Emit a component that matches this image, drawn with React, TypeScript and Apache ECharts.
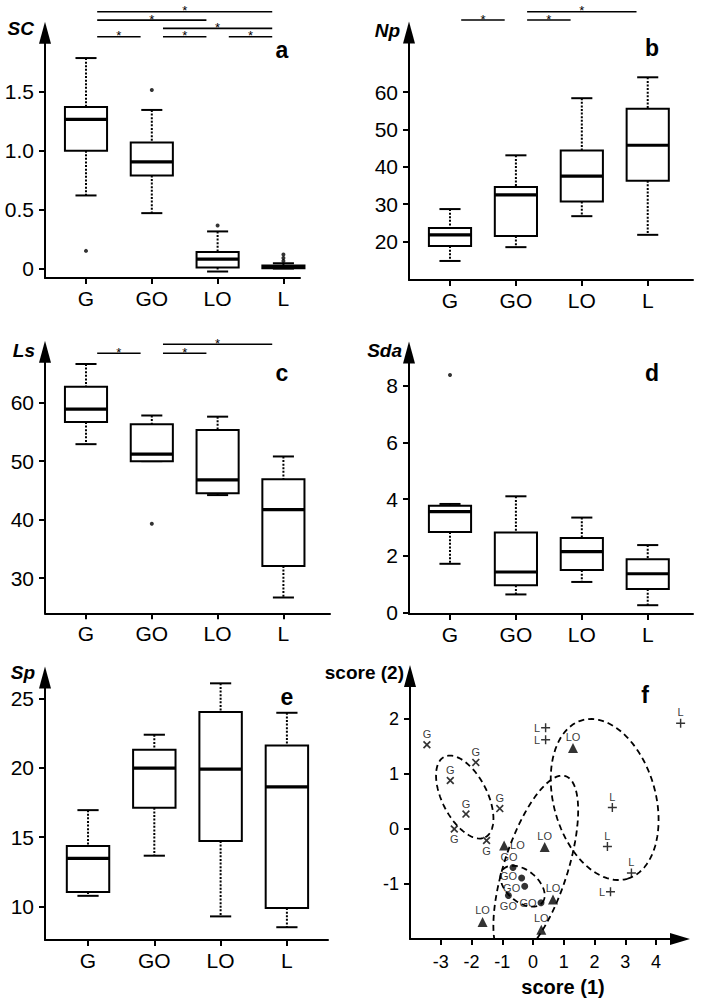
import React, { useEffect, useRef } from 'react';
import * as echarts from 'echarts';

const FONT = '"Liberation Sans", Arial, sans-serif';

const categories = ['G', 'GO', 'LO', 'L'];
const catPositions = [1, 2, 3, 4];

// [min, Q1, median, Q3, max]
const scStats = [
  [0.62, 1.0, 1.265, 1.37, 1.785],
  [0.47, 0.79, 0.905, 1.07, 1.345],
  [-0.025, 0.01, 0.08, 0.14, 0.315],
  [0.0, 0.003, 0.012, 0.025, 0.045],
];
const scOutliers = [[1, 0.15], [2, 1.515], [3, 0.365], [4, 0.065], [4, 0.09], [4, 0.12]];
const scTicks = [0, 0.5, 1.0, 1.5];
const scSig = [[1, 2, 0], [2, 3, 0], [3, 4, 0], [2, 4, 1], [1, 3, 2], [1, 4, 3]];

const npStats = [
  [14.8, 18.8, 21.8, 23.6, 28.7],
  [18.5, 21.5, 32.5, 34.6, 43.1],
  [26.8, 30.7, 37.5, 44.4, 58.4],
  [21.8, 36.3, 45.8, 55.6, 64.0],
];
const npOutliers: number[][] = [];
const npTicks = [20, 30, 40, 50, 60];
const npSig = [[1, 2, 0], [2, 3, 0], [2, 4, 1]];

const lsStats = [
  [52.9, 56.7, 58.9, 62.7, 66.6],
  [50.0, 50.0, 51.2, 56.3, 57.8],
  [44.2, 44.5, 46.8, 55.3, 57.6],
  [26.7, 32.1, 41.7, 46.9, 50.8],
];
const lsOutliers = [[2, 39.3]];
const lsTicks = [30, 40, 50, 60];
const lsSig = [[1, 2, 0], [2, 3, 0], [2, 4, 1]];

const sdaStats = [
  [1.72, 2.84, 3.56, 3.77, 3.83],
  [0.64, 0.96, 1.43, 2.82, 4.1],
  [1.08, 1.5, 2.15, 2.63, 3.35],
  [0.26, 0.83, 1.37, 1.88, 2.38],
];
const sdaOutliers = [[1, 8.38]];
const sdaTicks = [0, 2, 4, 6, 8];

const spStats = [
  [10.78, 11.05, 13.47, 14.37, 16.95],
  [13.67, 17.12, 19.98, 21.3, 22.38],
  [9.3, 14.73, 19.9, 24.02, 26.08],
  [8.52, 9.9, 18.63, 21.6, 23.96],
];
const spOutliers: number[][] = [];
const spTicks = [10, 15, 20, 25];

// PCA scores
const gScores = [[-3.45, 1.53], [-1.86, 1.21], [-2.69, 0.88], [-2.18, 0.27], [-1.08, 0.37], [-2.56, 0.0], [-1.51, -0.21]];
const gLabelSide = ['top', 'top', 'top', 'top', 'top', 'bottom', 'bottom'];
const goScores = [[-0.65, -0.7], [-0.37, -0.89], [-0.27, -1.04], [-0.8, -1.21], [0.26, -1.34]];
const goLabelSide = ['top', 'left', 'left', 'bottom', 'left'];
const goLabelShift = [[-4, 0], [0, -2], [0, 2], [0, 0], [0, 0]];
const loScores = [[1.3, 1.47], [-0.94, -0.3], [0.38, -0.33], [0.65, -1.28], [-1.64, -1.69], [0.27, -1.83]];
const loLabelSide = ['top', 'right', 'top', 'top', 'top', 'top'];
const lScores = [[4.8, 1.92], [0.41, 1.84], [0.41, 1.62], [2.58, 0.39], [2.42, -0.32], [3.2, -0.8], [2.52, -1.14]];
const lLabelSide = ['top', 'left', 'left', 'top', 'top', 'top', 'left'];
const scoreXTicks = [-3, -2, -1, 0, 1, 2, 3, 4];
const scoreYTicks = [-1, 0, 1, 2];
// ellipse: [cx, cy, u_x, u_y, v_x, v_y] (conjugate half axes in score units)
const ellipses = [
  [-2.22, 0.58, 0.67, -0.73, 0.65, 0.19],
  [-0.34, -1.04, 0.64, -0.3, 0.33, 0.22],
  [0.09, -0.71, -0.97, -1.67, 0.98, -0.18],
  [2.33, 0.535, 0.74, -1.44, 1.59, 0.26],
];

const X_PATH = 'path://M0,1.5L1.5,0L5,3.5L8.5,0L10,1.5L6.5,5L10,8.5L8.5,10L5,6.5L1.5,10L0,8.5L3.5,5Z';
const PLUS_PATH = 'path://M4.2,0H5.8V4.2H10V5.8H5.8V10H4.2V5.8H0V4.2H4.2Z';

const boxRender = (params: any, api: any) => {
  const x = api.value(0);
  const mn = api.value(1), q1 = api.value(2), md = api.value(3), q3 = api.value(4), mx = api.value(5);
  const c = (a: number, b: number) => api.coord([a, b]);
  const BH = 0.32, CH = 0.16;
  const tl = c(x - BH, q3), br = c(x + BH, q1);
  const top = c(x, mx), q3p = c(x, q3), q1p = c(x, q1), bot = c(x, mn);
  const capL = c(x - CH, mx)[0], capR = c(x + CH, mx)[0];
  const medL = c(x - BH, md), medR = c(x + BH, md);
  const solid = { stroke: '#000', lineWidth: 2 };
  const dotted = { stroke: '#000', lineWidth: 2, lineDash: [2, 1.6] };
  return {
    type: 'group',
    children: [
      { type: 'line', shape: { x1: top[0], y1: top[1], x2: q3p[0], y2: q3p[1] }, style: dotted },
      { type: 'line', shape: { x1: q1p[0], y1: q1p[1], x2: bot[0], y2: bot[1] }, style: dotted },
      { type: 'line', shape: { x1: capL, y1: top[1], x2: capR, y2: top[1] }, style: solid },
      { type: 'line', shape: { x1: capL, y1: bot[1], x2: capR, y2: bot[1] }, style: solid },
      { type: 'rect', shape: { x: tl[0], y: tl[1], width: br[0] - tl[0], height: br[1] - tl[1] }, style: { stroke: '#000', lineWidth: 2, fill: '#fff' } },
      { type: 'line', shape: { x1: medL[0], y1: medL[1], x2: medR[0], y2: medR[1] }, style: { stroke: '#000', lineWidth: 3.2 } },
    ],
  };
};

const makeSigRender = (baseY: number, step: number) => (params: any, api: any) => {
  const from = api.value(0), to = api.value(1), row = api.value(2);
  const x1 = api.coord([from + 0.17, 0])[0];
  const x2 = api.coord([to - 0.17, 0])[0];
  const y = baseY - row * step;
  return {
    type: 'group',
    children: [
      { type: 'line', shape: { x1, y1: y, x2, y2: y }, style: { stroke: '#000', lineWidth: 1.6 } },
      { type: 'text', x: (x1 + x2) / 2, y: y - 1, style: { text: '*', fontSize: 13, fontFamily: FONT, fill: '#000', align: 'center', verticalAlign: 'middle' } },
    ],
  };
};

const ellipseRender = (params: any, api: any) => {
  const cx = api.value(0), cy = api.value(1), ux = api.value(2), uy = api.value(3), vx = api.value(4), vy = api.value(5);
  const pts: number[][] = [];
  const N = 96;
  for (let i = 0; i <= N; i++) {
    const t = (i / N) * Math.PI * 2;
    pts.push(api.coord([cx + ux * Math.cos(t) + vx * Math.sin(t), cy + uy * Math.cos(t) + vy * Math.sin(t)]));
  }
  return { type: 'polyline', shape: { points: pts }, style: { stroke: '#000', lineWidth: 1.8, fill: 'none', lineDash: [6, 4] } };
};

const boxPanels = [
  { stats: scStats, outliers: scOutliers, ticks: scTicks, fmt: (v: number) => (v === 0 ? '0' : v.toFixed(1)), sig: scSig, sigY: 36.7, sigStep: 8.3,
    grid: { left: 45, top: 32.7, width: 255, height: 245.3 }, xr: [0.377, 4.252], yr: [-0.08, 2.0] },
  { stats: npStats, outliers: npOutliers, ticks: npTicks, fmt: (v: number) => String(v), sig: npSig, sigY: 20, sigStep: 8.3,
    grid: { left: 409, top: 32.5, width: 284, height: 247.5 }, xr: [0.378, 4.687], yr: [9.7, 76] },
  { stats: lsStats, outliers: lsOutliers, ticks: lsTicks, fmt: (v: number) => String(v), sig: lsSig, sigY: 353.3, sigStep: 9,
    grid: { left: 45, top: 351.7, width: 285, height: 261.6 }, xr: [0.377, 4.708], yr: [24, 68.7] },
  { stats: sdaStats, outliers: sdaOutliers, ticks: sdaTicks, fmt: (v: number) => String(v), sig: null as any, sigY: 0, sigStep: 0,
    grid: { left: 409, top: 352.5, width: 284, height: 261.5 }, xr: [0.378, 4.687], yr: [-0.05, 9.17] },
  { stats: spStats, outliers: spOutliers, ticks: spTicks, fmt: (v: number) => String(v), sig: null as any, sigY: 0, sigStep: 0,
    grid: { left: 45, top: 677.5, width: 283, height: 262.5 }, xr: [0.351, 4.62], yr: [7.6, 26.5] },
];

const axisLineStyle = { color: '#000', width: 2 };
const labelBase = { color: '#000', fontSize: 21, fontFamily: FONT };
const labelSmall = { color: '#000', fontSize: 18, fontFamily: FONT };

function buildOption() {
  const grid: any[] = [];
  const xAxis: any[] = [];
  const yAxis: any[] = [];
  const series: any[] = [];

  boxPanels.forEach((p, i) => {
    grid.push({ ...p.grid, containLabel: false, outerBoundsMode: 'none' });
    xAxis.push({
      type: 'value', gridIndex: i, min: p.xr[0], max: p.xr[1],
      splitLine: { show: false },
      axisLine: { show: true, onZero: false, lineStyle: axisLineStyle },
      axisTick: { show: true, customValues: catPositions, length: 6, lineStyle: { color: '#000', width: 2 } },
      axisLabel: { ...labelBase, customValues: catPositions, margin: 10, formatter: (v: number) => categories[Math.round(v) - 1] },
    });
    yAxis.push({
      type: 'value', gridIndex: i, min: p.yr[0], max: p.yr[1],
      splitLine: { show: false },
      axisLine: { show: true, onZero: false, lineStyle: axisLineStyle, symbol: ['none', 'triangle'], symbolSize: [12, 22] },
      axisTick: { show: true, customValues: p.ticks, length: 6, lineStyle: { color: '#000', width: 2 } },
      axisLabel: { ...labelBase, customValues: p.ticks, margin: 11, formatter: p.fmt },
    });
    series.push({
      type: 'custom', xAxisIndex: i, yAxisIndex: i, renderItem: boxRender,
      encode: { x: 0, y: [1, 2, 3, 4, 5] },
      data: p.stats.map((s, k) => [catPositions[k], ...s]),
      silent: true,
    });
    if (p.outliers.length) {
      series.push({
        type: 'scatter', xAxisIndex: i, yAxisIndex: i, symbol: 'circle', symbolSize: 4,
        itemStyle: { color: '#000' }, data: p.outliers, silent: true,
      });
    }
    if (p.sig) {
      series.push({
        type: 'custom', xAxisIndex: i, yAxisIndex: i, renderItem: makeSigRender(p.sigY, p.sigStep),
        encode: { x: [0, 1] }, data: p.sig, clip: false, silent: true,
      });
    }
  });

  // panel f
  const fi = 5;
  grid.push({ left: 410, top: 676, width: 270, height: 263, containLabel: false, outerBoundsMode: 'none' });
  xAxis.push({
    type: 'value', gridIndex: fi, min: -4, max: 4.78, splitLine: { show: false },
    axisLine: { show: true, onZero: false, lineStyle: axisLineStyle, symbol: ['none', 'triangle'], symbolSize: [12, 20] },
    axisTick: { show: true, customValues: scoreXTicks, length: 6, lineStyle: { color: '#000', width: 2 } },
    axisLabel: { ...labelSmall, customValues: scoreXTicks, margin: 14, formatter: (v: number) => String(v) },
  });
  yAxis.push({
    type: 'value', gridIndex: fi, min: -2, max: 2.78, splitLine: { show: false },
    axisLine: { show: true, onZero: false, lineStyle: axisLineStyle, symbol: ['none', 'triangle'], symbolSize: [12, 22] },
    axisTick: { show: true, customValues: scoreYTicks, length: 6, lineStyle: { color: '#000', width: 2 } },
    axisLabel: { ...labelSmall, customValues: scoreYTicks, margin: 11, formatter: (v: number) => String(v) },
  });
  series.push({
    type: 'custom', xAxisIndex: fi, yAxisIndex: fi, renderItem: ellipseRender,
    encode: { x: 0, y: 1 }, data: ellipses, clip: true, silent: true,
  });
  const groups = [
    { name: 'G', pts: gScores, sides: gLabelSide, shift: null as any, symbol: X_PATH, size: 8 },
    { name: 'GO', pts: goScores, sides: goLabelSide, shift: goLabelShift, symbol: 'circle', size: 7 },
    { name: 'LO', pts: loScores, sides: loLabelSide, shift: null as any, symbol: 'triangle', size: 10 },
    { name: 'L', pts: lScores, sides: lLabelSide, shift: null as any, symbol: PLUS_PATH, size: 9 },
  ];
  groups.forEach((g) => {
    series.push({
      type: 'scatter', xAxisIndex: fi, yAxisIndex: fi, name: g.name, symbol: g.symbol, symbolSize: g.size,
      itemStyle: { color: '#000' }, clip: false, silent: true,
      label: { show: true, formatter: g.name, fontSize: 11, fontFamily: FONT, color: '#000', distance: 1 },
      data: g.pts.map((pt, k) => ({
        value: pt,
        label: {
          show: true, position: g.sides[k], color: '#000', fontSize: 11, fontFamily: FONT, formatter: g.name, distance: 1,
          offset: g.shift ? g.shift[k] : [0, 0],
        },
      })),
    });
  });

  const nameStyle = (text: string, x: number, y: number) => ({
    type: 'text', x, y,
    style: { text, fontSize: 19, fontWeight: 'bold', fontStyle: 'italic', fontFamily: FONT, fill: '#000', align: 'right', verticalAlign: 'middle' },
  });
  const letter = (text: string, x: number, y: number) => ({
    type: 'text', x, y,
    style: { text, fontSize: 23, fontWeight: 'bold', fontFamily: FONT, fill: '#000', align: 'center', verticalAlign: 'middle' },
  });
  const graphic = [
    nameStyle('SC', 34, 28.5),
    nameStyle('Np', 400, 30),
    nameStyle('Ls', 35, 350),
    nameStyle('Sda', 402, 350),
    nameStyle('Sp', 35, 672),
    { type: 'text', x: 404, y: 672, style: { text: 'score (2)', fontSize: 19, fontWeight: 'bold', fontFamily: FONT, fill: '#000', align: 'right', verticalAlign: 'middle' } },
    { type: 'text', x: 563, y: 987, style: { text: 'score (1)', fontSize: 20, fontWeight: 'bold', fontFamily: FONT, fill: '#000', align: 'center', verticalAlign: 'middle' } },
    letter('a', 282, 50),
    letter('b', 652, 48),
    letter('c', 282, 373),
    letter('d', 652, 373),
    letter('e', 287, 697),
    letter('f', 645, 695),
  ];

  return { animation: false, backgroundColor: '#fff', grid, xAxis, yAxis, series, graphic };
}

export default function App() {
  const ref = useRef<HTMLDivElement>(null);
  useEffect(() => {
    document.body.style.margin = '0';
    const chart = echarts.init(ref.current as HTMLDivElement, null, { renderer: 'svg', width: 701, height: 1001 });
    chart.setOption(buildOption() as any);
    return () => chart.dispose();
  }, []);
  return <div ref={ref} style={{ width: 701, height: 1001 }} />;
}
